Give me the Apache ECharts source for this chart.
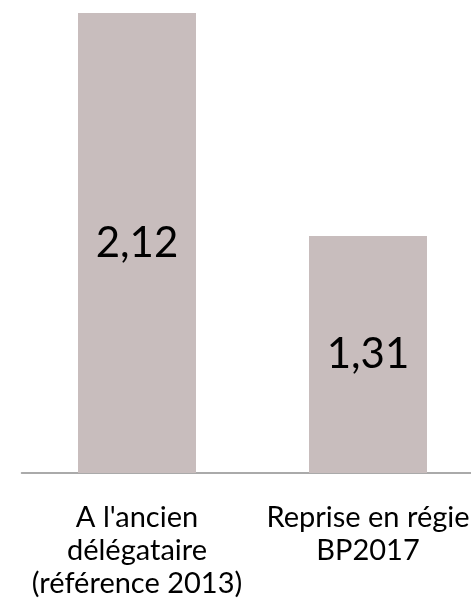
<!DOCTYPE html>
<html>
<head>
<meta charset="utf-8">
<script src="https://cdn.jsdelivr.net/npm/echarts@6/dist/echarts.min.js"></script>
<style>
  html, body { margin: 0; padding: 0; background: #ffffff; }
  #chart { width: 471px; height: 606px; }
</style>
</head>
<body>
<div id="chart"></div>
<script>
const categories = ["A l'ancien\ndélégataire\n(référence 2013)", 'Reprise en régie\nBP2017'];
const values = [2.12, 1.31];

const BAR_COLOR = '#c8bdbd';
const FONT = 'Lato, "Open Sans", sans-serif';

const chart = echarts.init(document.getElementById('chart'), null, { renderer: 'canvas' });

chart.setOption({
  animation: false,
  backgroundColor: '#ffffff',
  grid: {
    top: 13,
    bottom: 133,
    left: 21.5,
    width: 462,
    containLabel: false,
    outerBoundsMode: 'none',
  },
  xAxis: {
    type: 'category',
    data: categories,
    axisLine: { show: true, lineStyle: { color: '#8e8e8e', width: 1.5 } },
    axisTick: { show: false },
    axisLabel: {
      interval: 0,
      margin: 28,
      color: '#000000',
      fontFamily: FONT,
      fontSize: 29,
      lineHeight: 33,
      align: 'center',
      hideOverlap: false,
    },
  },
  yAxis: {
    type: 'value',
    min: 0.45,
    max: 2.12,
    show: false,
    splitLine: { show: false },
  },
  series: [
    {
      type: 'bar',
      data: values,
      barWidth: 118,
      itemStyle: { color: BAR_COLOR },
      label: {
        show: true,
        position: 'inside',
        color: '#000000',
        fontFamily: FONT,
        fontSize: 42,
        formatter: (p) => String(p.value).replace('.', ','),
      },
    },
  ],
});
</script>
</body>
</html>
